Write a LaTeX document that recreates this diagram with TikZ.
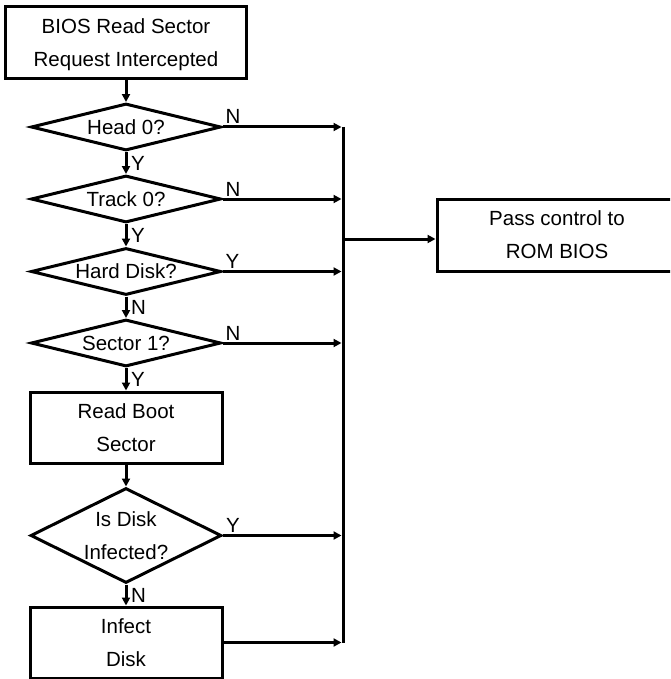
\documentclass[tikz,border=0pt]{standalone}
\usepackage{fontspec}
\setmainfont{Liberation Sans}
\usetikzlibrary{shapes.geometric,arrows.meta}
\tikzset{
  stepbox/.style={draw, line width=3pt, align=center, inner sep=0pt},
  decision/.style={draw, diamond, line width=3pt, align=center, inner sep=0pt, shape aspect=4, minimum width=190pt, minimum height=47pt},
  flow/.style={line width=3pt, -{Triangle[length=8pt,width=8pt]}},
  yn/.style={inner sep=1.5pt}
}
\begin{document}
\begin{tikzpicture}[x=1pt,y=-1pt,font=\fontsize{20.5}{33}\selectfont]
  \useasboundingbox (0,0) rectangle (670,679);
  \clip (0,0) rectangle (670,679);
  %% start
  \node[stepbox, minimum width=241pt, minimum height=72pt, text depth=0pt] (start) at (126,43) {BIOS Read Sector\\Request Intercepted};
  %% checks
  \node[decision] (head) at (126,127) {Head 0?};
  \node[decision] (track) at (126,199) {Track 0?};
  \node[decision] (hard) at (126,271.5) {Hard Disk?};
  \node[decision] (sector) at (126,343) {Sector 1?};
  %% boot sector
  \node[stepbox, minimum width=192pt, minimum height=71pt] (readboot) at (126,427.5) {Read Boot\\Sector};
  \node[decision, shape aspect=2, minimum width=191pt, minimum height=95pt] (infected) at (126,535.5) {Is Disk\\Infected?};
  \node[stepbox, minimum width=192pt, minimum height=71pt] (infect) at (126,642.5) {Infect\\Disk};
  %% rom bios
  \node[stepbox, minimum width=240pt, minimum height=72pt, text depth=0pt] (pass) at (557,235) {Pass control to\\ROM BIOS};
  \coordinate (bustop) at (343,127);
  \coordinate (tobios) at (343,239);
  %% down the column
  \draw[flow] (start) -- (head);
  \draw[flow] (head) -- node[yn, right, xshift=2pt] {Y} (track);
  \draw[flow] (track) -- node[yn, right, xshift=2pt] {Y} (hard);
  \draw[flow] (hard) -- node[yn, right, xshift=2pt] {N} (sector);
  \draw[flow] (sector) -- node[yn, right, xshift=2pt] {Y} (readboot);
  \draw[flow] (readboot) -- (infected);
  \draw[flow] (infected) -- node[yn, right, xshift=2pt] {N} (infect);
  %% over to the bus
  \draw[flow, shorten >=1.5pt] (head.east) -- node[yn, pos=0, above right] {N} (head.east -| bustop);
  \draw[flow, shorten >=1.5pt] (track.east) -- node[yn, pos=0, above right] {N} (track.east -| bustop);
  \draw[flow, shorten >=1.5pt] (hard.east) -- node[yn, pos=0, above right] {Y} (hard.east -| bustop);
  \draw[flow, shorten >=1.5pt] (sector.east) -- node[yn, pos=0, above right] {N} (sector.east -| bustop);
  \draw[flow, shorten >=1.5pt] (infected.east) -- node[yn, pos=0, above right] {Y} (infected.east -| bustop);
  \draw[flow, shorten >=1.5pt] (infect.east) -- (infect.east -| bustop);
  %% bus
  \draw[line width=3pt] (bustop) -- (infect.east -| bustop);
  \draw[flow] (tobios) -- (tobios -| pass.west);
\end{tikzpicture}
\end{document}
